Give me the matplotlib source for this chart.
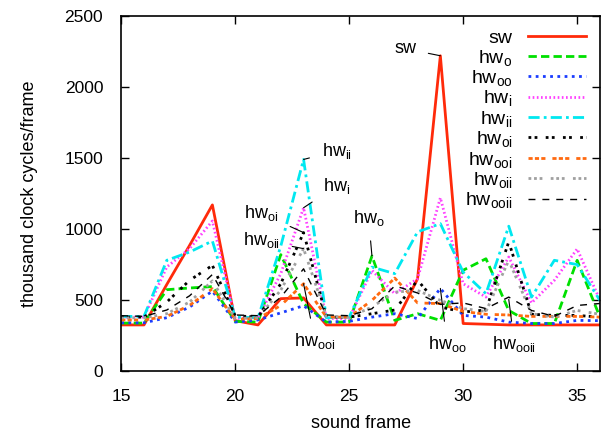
import matplotlib
matplotlib.use("Agg")
import matplotlib.pyplot as plt

plt.rcParams['font.family'] = ['Liberation Sans', 'DejaVu Sans']
plt.rcParams['mathtext.fontset'] = 'custom'
plt.rcParams['mathtext.rm'] = 'Liberation Sans'
plt.rcParams['mathtext.it'] = 'Liberation Sans'
plt.rcParams['mathtext.default'] = 'rm'

frames = list(range(15, 37))
sw     = [325, 325, 610, 885, 1170, 355, 325, 510, 515, 325, 325, 325, 325, 650, 2220, 335, 330, 325, 325, 325, 325, 325]
hw_o   = [338, 338, 573, 585, 595, 350, 345, 820, 475, 345, 345, 810, 357, 404, 357, 710, 791, 427, 335, 335, 780, 380]
hw_oo  = [340, 340, 376, 451, 563, 345, 360, 410, 460, 345, 350, 380, 404, 370, 582, 392, 380, 345, 335, 335, 357, 355]
hw_i   = [380, 380, 733, 862, 1057, 370, 375, 686, 1150, 370, 370, 709, 545, 650, 1220, 615, 521, 803, 480, 639, 860, 500]
hw_ii  = [385, 385, 780, 838, 916, 380, 375, 880, 1490, 375, 380, 732, 686, 980, 1038, 697, 545, 1020, 521, 780, 750, 498]
hw_oi  = [380, 380, 486, 639, 744, 390, 380, 615, 975, 380, 380, 404, 430, 640, 451, 416, 430, 910, 400, 392, 392, 380]
hw_ooi = [360, 360, 385, 463, 580, 365, 370, 462, 615, 380, 380, 498, 655, 480, 475, 420, 400, 395, 385, 385, 385, 380]
hw_oii = [375, 375, 404, 486, 635, 370, 375, 570, 862, 385, 380, 451, 556, 568, 498, 440, 420, 780, 404, 380, 427, 400]
hw_ooii = [390, 385, 430, 530, 680, 395, 390, 520, 720, 395, 390, 439, 600, 550, 470, 480, 440, 521, 427, 385, 462, 476]

series = [
    ('sw', sw, '#ff2a0a', '-', 2.0),
    ('hw$_{o}$', hw_o, '#00e000', (0, (3, 1.5)), 2.0),
    ('hw$_{oo}$', hw_oo, '#1a3cff', (0, (1, 1.6)), 2.0),
    ('hw$_{i}$', hw_i, '#ff40ff', (0, (0.6, 0.9)), 2.0),
    ('hw$_{ii}$', hw_ii, '#00e8f0', (0, (4, 1.5, 1, 1.5)), 2.0),
    ('hw$_{oi}$', hw_oi, '#000000', (0, (1, 1.2, 1, 3)), 2.0),
    ('hw$_{ooi}$', hw_ooi, '#ff6a10', (0, (1.5, 0.8, 1.5, 0.8, 1.5, 2.5)), 2.0),
    ('hw$_{oii}$', hw_oii, '#a0a0a0', (0, (1, 1, 1, 1, 1, 3)), 2.0),
    ('hw$_{ooii}$', hw_ooii, '#000000', (0, (5, 5)), 1.0),
]

fig = plt.figure(figsize=(6.06, 4.32), dpi=100)
ax = fig.add_axes([0.2, 0.141, 0.79, 0.822])

for label, vals, color, ls, lw in series:
    ax.plot(frames, vals, color=color, linestyle=ls, linewidth=lw, label=label)

ax.set_xlim(15, 36)
ax.set_ylim(0, 2500)
ax.set_xticks([15, 20, 25, 30, 35])
ax.set_yticks([0, 500, 1000, 1500, 2000, 2500])
ax.tick_params(direction='in', top=True, right=True, length=6, width=1, labelsize=12.5)
ax.tick_params(axis='x', pad=13)
ax.tick_params(axis='y', pad=13)
for s in ax.spines.values():
    s.set_linewidth(1.2)
ax.set_xlabel('sound frame', fontsize=13, labelpad=8)
ax.set_ylabel('thousand clock cycles/frame', fontsize=13, labelpad=19)

leg = ax.legend(loc='upper right', frameon=False, markerfirst=False, fontsize=14,
                handlelength=3.0, labelspacing=0.02, borderaxespad=0.3,
                handletextpad=0.8)

ann = [
    ('sw', (29, 2220), (27.45, 2270)),
    ('hw$_{ii}$', (23, 1490), (24.45, 1550)),
    ('hw$_{i}$', (23, 1150), (24.45, 1305)),
    ('hw$_{oi}$', (23, 975), (21.15, 1110)),
    ('hw$_{oii}$', (23, 862), (21.15, 920)),
    ('hw$_{ooi}$', (23, 615), (23.5, 215)),
    ('hw$_{o}$', (26, 810), (25.85, 1075)),
    ('hw$_{oo}$', (29, 582), (29.3, 193)),
    ('hw$_{ooii}$', (32, 505), (32.25, 193)),
]
for text, xy, xytext in ann:
    ax.annotate(text, xy=xy, xytext=xytext, fontsize=13, ha='center', va='center',
                arrowprops=dict(arrowstyle='-', color='black', lw=0.8, shrinkA=7, shrinkB=0))

fig.savefig('out.png', dpi=100)
